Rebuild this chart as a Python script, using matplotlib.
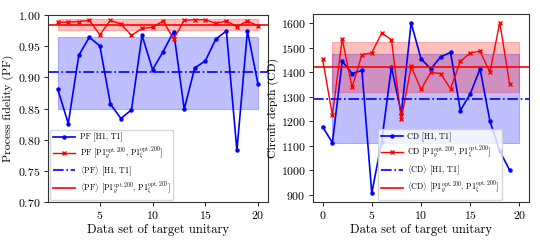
import matplotlib
matplotlib.use("Agg")
import matplotlib.pyplot as plt
import numpy as np

plt.rcParams['font.family'] = ['cmr10']
plt.rcParams['mathtext.fontset'] = 'cm'
plt.rcParams['axes.formatter.use_mathtext'] = True
plt.rcParams['axes.unicode_minus'] = False

# Left panel: process fidelity
x_pf = [1, 2, 3, 4, 5, 6, 7, 8, 9, 10, 11, 12, 13, 14, 15, 16, 17, 18, 19, 20]
pf_h1t1 = [0.881, 0.826, 0.935, 0.964, 0.950, 0.857, 0.834, 0.848, 0.967, 0.912,
           0.941, 0.973, 0.849, 0.915, 0.926, 0.961, 0.974, 0.783, 0.974, 0.889]
pf_p1 = [0.988, 0.988, 0.989, 0.991, 0.968, 0.991, 0.985, 0.967, 0.978, 0.980,
         0.990, 0.961, 0.991, 0.992, 0.992, 0.986, 0.990, 0.981, 0.990, 0.982]
pf_mean_h1t1 = 0.908
pf_band_h1t1 = (0.850, 0.965)
pf_mean_p1 = 0.984
pf_band_p1 = (0.975, 0.9925)
band_x = [1, 20]

# Right panel: circuit depth
x_cd = [0, 1, 2, 3, 4, 5, 6, 7, 8, 9, 10, 11, 12, 13, 14, 15, 16, 17, 18, 19]
cd_h1t1 = [1177, 1112, 1444, 1394, 1407, 906, 1116, 1421, 1230, 1600,
           1454, 1413, 1462, 1480, 1243, 1311, 1413, 1200, 1078, 1000]
cd_p1 = [1454, 1224, 1535, 1338, 1471, 1478, 1559, 1532, 1207, 1424,
         1329, 1399, 1393, 1332, 1444, 1478, 1485, 1399, 1602, 1352]
cd_mean_h1t1 = 1292
cd_band_h1t1 = (1112, 1475)
cd_mean_p1 = 1421
cd_band_p1 = (1320, 1523)

xlabel = "Data set of target unitary"
p1_lbl = r"[P1$_g^{\mathrm{opt.200}}$, P1$_\xi^{\mathrm{opt.200}}$]"

fig = plt.figure(figsize=(5.4, 2.4), dpi=100)
ax1 = fig.add_axes([47.7/540, 1-202.3/240, (268-47.7)/540, (202.3-14.7)/240])
ax2 = fig.add_axes([312.7/540, 1-201.7/240, (529.3-312.7)/540, (201.7-14)/240])

blue = (0, 0, 1)
red = (1, 0, 0)

def panel(ax, x, yb, yr, mb, bb, mr, br, name, loc, anchor):
    ax.fill_between(band_x, [bb[0]]*2, [bb[1]]*2, color=blue, alpha=0.25, lw=0.8)
    ax.fill_between(band_x, [br[0]]*2, [br[1]]*2, color=red, alpha=0.25, lw=0.8)
    ax.plot(x, yb, '-o', color=blue, lw=1.2, ms=2.2, label=f"{name} [H1, T1]")
    ax.plot(x, yr, '-x', color=red, lw=1.0, ms=3, mew=1.0, label=f"{name} " + p1_lbl)
    ax.axhline(mb, color=blue, lw=1.2, ls='-.', label=r"$\langle$" + name + r"$\rangle$ [H1, T1]")
    ax.axhline(mr, color=red, lw=1.2, label=r"$\langle$" + name + r"$\rangle$ " + p1_lbl)
    ax.set_xlabel(xlabel, fontsize=9, labelpad=2)
    ax.tick_params(labelsize=8.5, length=3, width=0.6, pad=2)
    for s in ax.spines.values():
        s.set_linewidth(0.8)
        s.set_color('#333333')
    ax.legend(loc=loc, bbox_to_anchor=anchor, fontsize=5.8, handlelength=2.7,
              borderpad=0.4, labelspacing=0.3, handletextpad=0.6,
              borderaxespad=0.25, framealpha=0.8)

panel(ax1, x_pf, pf_h1t1, pf_p1, pf_mean_h1t1, pf_band_h1t1, pf_mean_p1, pf_band_p1,
      "PF", 'lower left', (0.0, 0.0))
ax1.set_ylim(0.70, 1.00)
ax1.set_xticks([5, 10, 15, 20])
ax1.set_yticks([0.70, 0.75, 0.80, 0.85, 0.90, 0.95, 1.00])
ax1.set_ylabel("Process fidelity (PF)", fontsize=8.5, labelpad=3)

panel(ax2, x_cd, cd_h1t1, cd_p1, cd_mean_h1t1, cd_band_h1t1, cd_mean_p1, cd_band_p1,
      "CD", 'lower left', (0.29, 0.0))
ax2.set_xticks([0, 5, 10, 15, 20])
ax2.set_yticks([900, 1000, 1100, 1200, 1300, 1400, 1500, 1600])
ax2.set_ylabel("Circuit depth (CD)", fontsize=8.5, labelpad=1)

fig.savefig("out.png", dpi=100)
